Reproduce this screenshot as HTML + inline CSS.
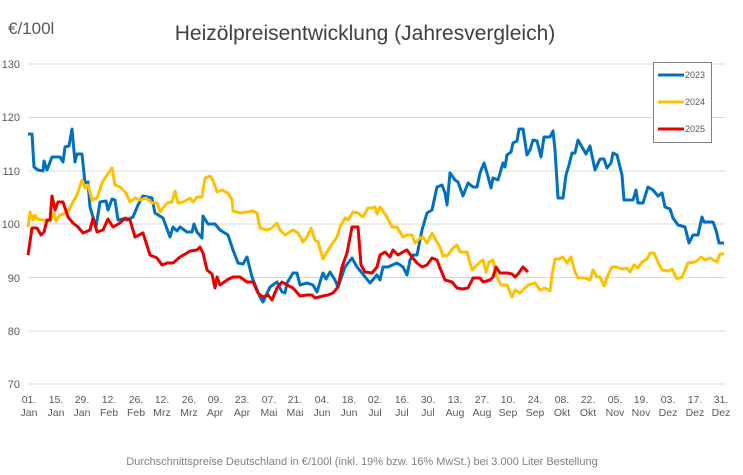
<!DOCTYPE html>
<html><head><meta charset="utf-8"><style>
html,body{margin:0;padding:0;background:#fff;}
svg{display:block;font-family:"Liberation Sans",sans-serif;}
</style></head><body>
<svg width="743" height="475" viewBox="0 0 743 475" xmlns="http://www.w3.org/2000/svg">
<rect width="743" height="475" fill="#fff"/>
<text x="8" y="34" font-size="17" fill="#595959">€/100l</text>
<text x="365" y="40" font-size="21" fill="#404040" text-anchor="middle">Heizölpreisentwicklung (Jahresvergleich)</text>
<g stroke="#d9d9d9" stroke-width="1">
<line x1="28" y1="64" x2="725" y2="64"/><line x1="28" y1="117.5" x2="725" y2="117.5"/><line x1="28" y1="171" x2="725" y2="171"/><line x1="28" y1="224" x2="725" y2="224"/><line x1="28" y1="277.5" x2="725" y2="277.5"/><line x1="28" y1="331" x2="725" y2="331"/><line x1="28" y1="384" x2="725" y2="384"/>
</g>
<g font-size="11" fill="#595959" text-anchor="end">
<text x="20" y="68">130</text><text x="20" y="121">120</text><text x="20" y="175">110</text><text x="20" y="228">100</text><text x="20" y="282">90</text><text x="20" y="335">80</text><text x="20" y="388">70</text>
</g>
<g font-size="10.5" fill="#595959" text-anchor="middle" id="xl"></g>
<polyline fill="none" stroke="#0070c0" stroke-width="3" stroke-linejoin="round" points="28,134 32,134 34,167 38,170 43,171 44,161 47,170 52,157 60,157 63,162 65,147 69,146 72,129 75,162 77,154 82,154 85,183 88,182 90,207 93,217 96,227 100,202 106,201 108,210 112,199 115,200 118,220 123,219 127,220 133,217 138,205 143,196 152,198 155,213 163,218 170,237 173,227 177,231 180,227 187,232 192,232 194,224 197,232 202,238 203,216 208,224 215,224 220,230 228,235 233,250 238,263 243,264 247,257 252,277 260,297 263,302 270,287 277,282 282,292 285,293 287,283 293,273 297,273 300,285 307,283 313,285 317,292 320,282 323,273 326,279 330,272 335,280 338,287 345,267 352,258 357,267 362,273 370,283 377,275 380,280 383,267 388,267 397,263 403,267 407,275 410,260 413,255 417,255 422,230 427,213 432,210 437,187 442,185 445,193 447,205 450,173 455,180 458,182 463,196 468,183 473,187 477,187 480,173 484,163 487,173 491,188 493,178 498,180 503,163 505,167 507,155 511,152 513,143 517,141 519,129 523,129 527,155 530,150 533,140 537,141 541,157 544,137 550,137 553,131 555,150 558,198 563,198 566,175 569,165 572,153 575,153 578,140 582,147 586,154 590,146 595,170 600,159 604,159 607,168 611,163 613,153 617,155 622,175 624,200 633,200 636,190 638,203 643,203 648,187 653,190 658,196 662,193 665,207 670,209 673,218 678,225 685,227 689,243 693,235 698,235 702,217 704,222 713,222 716,230 719,243 724,243"/>
<polyline fill="none" stroke="#ffc000" stroke-width="3" stroke-linejoin="round" points="28,227 30,212 33,220 35,215 37,219 43,220 50,221 54,213 56,221 60,215 67,213 73,202 77,195 82,180 85,188 88,185 92,200 97,198 102,183 107,175 112,168 115,185 120,187 126,193 130,202 135,198 140,200 146,198 152,203 157,203 160,212 167,203 172,202 175,191 178,203 183,202 190,198 193,202 197,197 202,197 205,178 210,176 213,180 217,192 222,190 228,193 232,200 233,211 240,213 247,212 253,211 257,213 260,228 267,230 272,228 277,223 280,230 285,235 293,230 298,233 303,242 307,237 311,228 315,240 318,242 323,259 327,252 330,247 337,237 340,227 345,218 348,220 353,212 358,213 363,217 368,208 372,208 375,207 377,214 380,207 387,217 392,227 397,227 403,237 407,235 412,235 415,243 420,238 423,237 427,243 432,233 437,242 440,247 443,256 448,255 453,248 457,245 460,252 467,252 472,270 475,267 480,262 483,260 486,272 489,262 493,260 496,275 501,285 507,285 512,297 515,290 520,293 523,290 528,285 535,283 540,290 545,288 550,291 552,275 555,259 559,259 563,257 567,263 571,257 575,272 578,278 585,278 590,280 593,270 597,277 600,277 604,286 608,275 612,267 617,267 622,269 627,268 630,272 634,265 638,268 642,262 647,259 650,253 654,253 657,260 662,270 668,271 672,269 677,279 682,277 688,263 695,262 698,260 701,257 705,260 710,258 717,262 720,254 724,254"/>
<polyline fill="none" stroke="#e60000" stroke-width="3" stroke-linejoin="round" points="28,255 32,228 37,228 41,235 44,232 47,220 50,220 52,196 55,210 58,202 63,202 68,217 73,223 78,227 83,233 90,230 93,218 97,232 103,230 108,219 113,227 120,223 125,218 130,220 135,237 143,233 150,255 157,258 162,265 167,263 173,263 180,257 187,253 190,251 197,250 200,247 203,253 207,270 212,274 215,288 217,277 220,285 227,280 233,277 240,277 247,282 253,282 258,293 263,297 268,295 272,300 277,288 282,282 287,285 293,288 300,296 307,295 312,295 315,298 323,296 328,295 333,293 338,287 342,267 347,253 352,227 358,227 361,265 365,272 372,273 377,267 380,255 385,252 390,257 393,250 398,255 403,252 407,250 412,257 417,263 422,267 427,265 432,258 437,260 440,268 445,280 452,282 457,288 462,289 468,288 473,278 480,278 483,282 490,280 493,277 496,267 500,273 507,273 512,274 515,277 518,274 523,267 528,272"/>
<rect x="653.5" y="62.5" width="58" height="80" fill="#fff" stroke="#808080"/>
<g stroke-width="3"><line x1="658" y1="75" x2="684" y2="75" stroke="#0070c0"/><line x1="658" y1="102" x2="684" y2="102" stroke="#ffc000"/><line x1="658" y1="129" x2="684" y2="129" stroke="#e60000"/></g>
<g font-size="9" fill="#595959"><text x="685" y="78">2023</text><text x="685" y="105">2024</text><text x="685" y="132">2025</text></g>
<text x="362" y="465" font-size="11" fill="#7f7f7f" text-anchor="middle">Durchschnittspreise Deutschland in €/100l (inkl. 19% bzw. 16%  MwSt.) bei 3.000 Liter Bestellung</text>
<g font-size="10.5" fill="#595959" text-anchor="middle">
<text x="29" y="403">01.</text><text x="29" y="416">Jan</text>
<text x="56" y="403">15.</text><text x="56" y="416">Jan</text>
<text x="82" y="403">29.</text><text x="82" y="416">Jan</text>
<text x="109" y="403">12.</text><text x="109" y="416">Feb</text>
<text x="136" y="403">26.</text><text x="136" y="416">Feb</text>
<text x="162" y="403">12.</text><text x="162" y="416">Mrz</text>
<text x="189" y="403">26.</text><text x="189" y="416">Mrz</text>
<text x="215" y="403">09.</text><text x="215" y="416">Apr</text>
<text x="242" y="403">23.</text><text x="242" y="416">Apr</text>
<text x="269" y="403">07.</text><text x="269" y="416">Mai</text>
<text x="295" y="403">21.</text><text x="295" y="416">Mai</text>
<text x="322" y="403">04.</text><text x="322" y="416">Jun</text>
<text x="349" y="403">18.</text><text x="349" y="416">Jun</text>
<text x="375" y="403">02.</text><text x="375" y="416">Jul</text>
<text x="402" y="403">16.</text><text x="402" y="416">Jul</text>
<text x="428" y="403">30.</text><text x="428" y="416">Jul</text>
<text x="455" y="403">13.</text><text x="455" y="416">Aug</text>
<text x="482" y="403">27.</text><text x="482" y="416">Aug</text>
<text x="508" y="403">10.</text><text x="508" y="416">Sep</text>
<text x="535" y="403">24.</text><text x="535" y="416">Sep</text>
<text x="562" y="403">08.</text><text x="562" y="416">Okt</text>
<text x="588" y="403">22.</text><text x="588" y="416">Okt</text>
<text x="615" y="403">05.</text><text x="615" y="416">Nov</text>
<text x="641" y="403">19.</text><text x="641" y="416">Nov</text>
<text x="668" y="403">03.</text><text x="668" y="416">Dez</text>
<text x="695" y="403">17.</text><text x="695" y="416">Dez</text>
<text x="721" y="403">31.</text><text x="721" y="416">Dez</text>
</g>
</svg>
</body></html>
